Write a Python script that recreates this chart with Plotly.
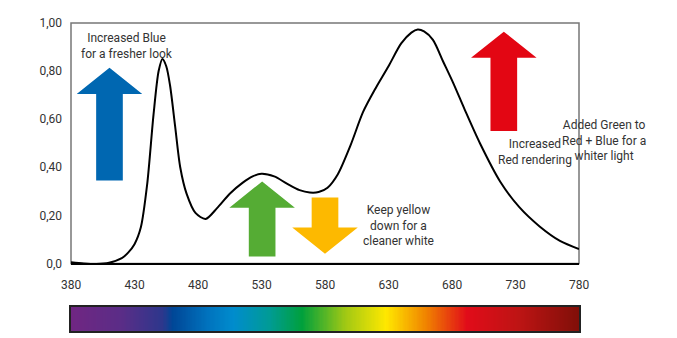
import numpy as np
import plotly.graph_objects as go

# spectral power distribution
wavelength = [380, 390, 400, 410, 420, 425, 430, 435, 440, 445, 449, 452, 455, 458,
              462, 466, 471, 478, 486, 495, 505, 515, 523, 530, 540, 550, 560, 568,
              575, 582, 590, 600, 610, 620, 630, 640, 648, 653, 658, 665, 673, 681,
              690, 702, 718, 733, 749, 765, 780]
intensity = [0.005, 0.0, -0.002, 0.003, 0.022, 0.045, 0.08, 0.15, 0.33, 0.62, 0.80, 0.85,
             0.82, 0.74, 0.57, 0.40, 0.29, 0.21, 0.185, 0.23, 0.29, 0.335, 0.362, 0.373,
             0.362, 0.332, 0.305, 0.295, 0.297, 0.315, 0.37, 0.49, 0.63, 0.73, 0.82, 0.915,
             0.96, 0.973, 0.965, 0.93, 0.84, 0.75, 0.64, 0.50, 0.34, 0.234, 0.154, 0.094, 0.06]

x_ticks = [380, 430, 480, 530, 580, 630, 680, 730, 780]
y_ticks = [0, 0.2, 0.4, 0.6, 0.8, 1.0]
y_ticklabels = ["0,0", "0,20", "0,40", "0,60", "0,80", "1,00"]

# spectrum strip colours (position along strip, colour)
spectrum_stops = [
    (0.00, "rgb(112,38,130)"),
    (0.10, "rgb(90,45,135)"),
    (0.18, "rgb(45,55,140)"),
    (0.20, "rgb(0,70,150)"),
    (0.27, "rgb(0,115,190)"),
    (0.32, "rgb(0,140,205)"),
    (0.39, "rgb(0,155,150)"),
    (0.455, "rgb(0,160,60)"),
    (0.54, "rgb(160,200,20)"),
    (0.62, "rgb(255,232,0)"),
    (0.70, "rgb(240,130,0)"),
    (0.78, "rgb(225,12,25)"),
    (0.88, "rgb(190,20,20)"),
    (1.00, "rgb(128,15,8)"),
]

# arrows: name, centre wavelength, tail value, tip value, colour
arrows = [
    ("blue", 410.3, 0.345, 0.814, "#0067B1"),
    ("green", 530.5, 0.029, 0.341, "#55AC34"),
    ("yellow", 580.0, 0.274, 0.040, "#FDB900"),
    ("red", 720.8, 0.551, 0.964, "#E30613"),
]
SHAFT_HALF = 10.5
HEAD_HALF = 25.8
HEAD_LEN = 0.109


def arrow_polygon(cx, tail, tip):
    sign = 1 if tip > tail else -1
    base = tip - sign * HEAD_LEN
    xs = [cx - SHAFT_HALF, cx - SHAFT_HALF, cx - HEAD_HALF, cx, cx + HEAD_HALF,
          cx + SHAFT_HALF, cx + SHAFT_HALF, cx - SHAFT_HALF]
    ys = [tail, base, base, tip, base, base, tail, tail]
    return xs, ys


fig = go.Figure()

for name, cx, tail, tip, color in arrows:
    xs, ys = arrow_polygon(cx, tail, tip)
    fig.add_trace(go.Scatter(x=xs, y=ys, mode="lines", fill="toself", fillcolor=color,
                             line=dict(width=0), showlegend=False, hoverinfo="skip", name=name))

fig.add_trace(go.Scatter(x=wavelength, y=intensity, mode="lines",
                         line=dict(color="black", width=2, shape="spline", smoothing=0.8),
                         showlegend=False))

# spectrum strip
strip_x = np.linspace(380, 780, 401)
fig.add_trace(go.Heatmap(x=strip_x, y=[0], z=[strip_x], colorscale=spectrum_stops,
                         zmin=380, zmax=780, showscale=False, xaxis="x2", yaxis="y2",
                         hoverinfo="skip"))

text_font = dict(family="Roboto, Arial, sans-serif", size=12, color="#333333")
notes = [
    ("Increased Blue<br>for a fresher look", 423.8, 0.905),
    ("Keep yellow<br>down for a<br>cleaner white", 637.5, 0.158),
    ("Increased<br>Red rendering", 745.4, 0.465),
]
for text, x, y in notes:
    fig.add_annotation(text=text, x=x, y=y, xref="x", yref="y", showarrow=False,
                       align="center", font=text_font)
# this one sits right of the plot area, so it is placed in paper units
fig.add_annotation(text="Added Green to<br>Red + Blue for a<br>whiter light",
                   x=1.049, y=0.513, xref="paper", yref="y", xanchor="center",
                   yanchor="middle", showarrow=False, align="center", font=text_font)

# grey frame around the plot area
fig.add_shape(type="rect", xref="x domain", yref="y domain", x0=0, x1=1, y0=0, y1=1,
              line=dict(color="#777777", width=1.5), layer="below")

tick_font = dict(family="Roboto, Arial, sans-serif", size=12, color="#333333")
# the page body adds an 8px offset, so margins are shifted to compensate
fig.update_layout(
    width=677, height=338,
    margin=dict(l=63, r=106, t=8, b=11),
    plot_bgcolor="white", paper_bgcolor="white",
    xaxis=dict(range=[380, 780], tickvals=x_ticks, showgrid=False, zeroline=False,
               showline=True, linecolor="black", linewidth=1.5, ticks="",
               ticklabelstandoff=9, tickfont=tick_font, domain=[0, 1]),
    yaxis=dict(range=[0, 1.0], tickvals=y_ticks, ticktext=y_ticklabels, showgrid=False,
               zeroline=False, showline=False, ticks="", ticklabelstandoff=8,
               tickfont=tick_font, domain=[0.2194, 1]),
    xaxis2=dict(range=[380, 780], showticklabels=False, showgrid=False, zeroline=False,
                showline=True, mirror=True, linecolor="#222222", linewidth=1.5,
                anchor="y2", ticks=""),
    yaxis2=dict(range=[-0.5, 0.5], showticklabels=False, showgrid=False, zeroline=False,
                showline=True, mirror=True, linecolor="#222222", linewidth=1.5,
                domain=[0, 0.078], anchor="x2", ticks=""),
)

fig.write_html("out.html")
